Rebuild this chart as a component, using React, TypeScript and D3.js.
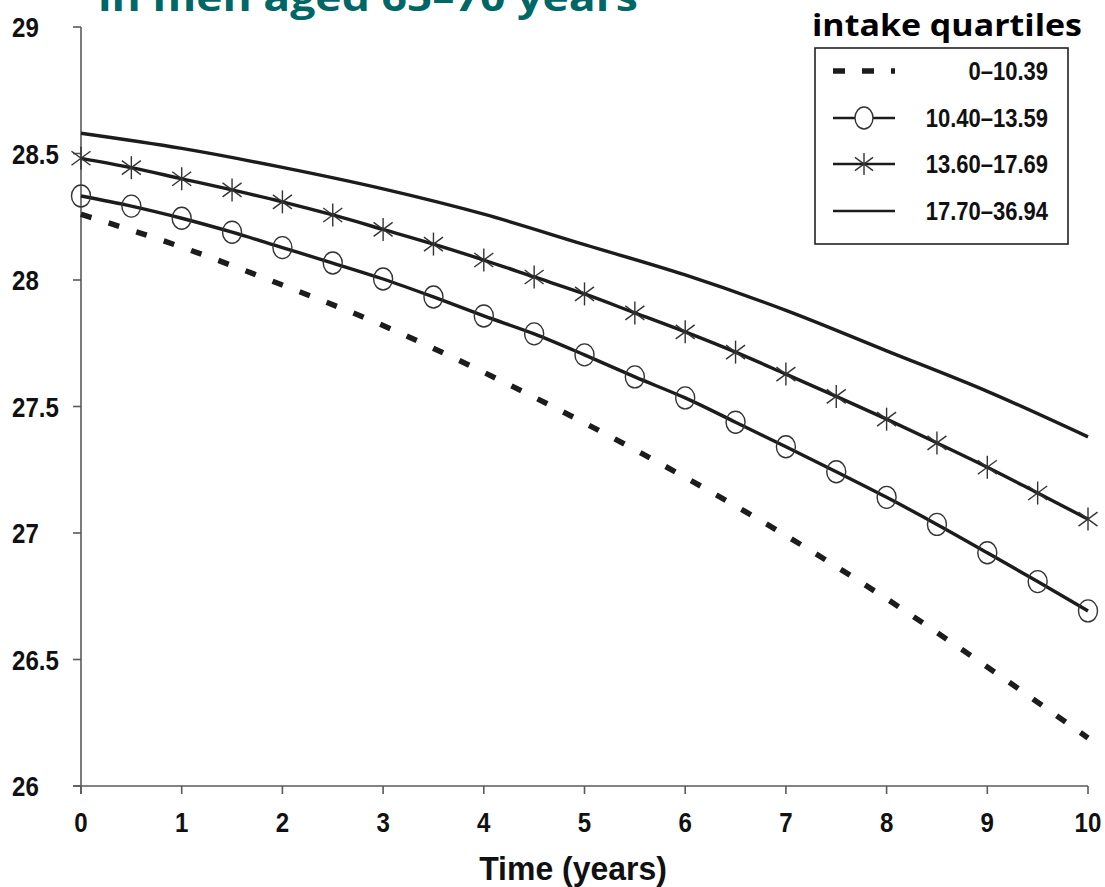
import React from "react";
import * as d3 from "d3";

// readings from the figure (BMI, kg/m2)
const years = [0, 1, 2, 3, 4, 5, 6, 7, 8, 9, 10];
const halfYears = [0, 0.5, 1, 1.5, 2, 2.5, 3, 3.5, 4, 4.5, 5, 5.5, 6, 6.5, 7, 7.5, 8, 8.5, 9, 9.5, 10];

const q1 = [28.26, 28.13, 27.98, 27.82, 27.635, 27.435, 27.22, 26.99, 26.74, 26.47, 26.19];
const q2 = [28.332, 28.292, 28.244, 28.189, 28.128, 28.067, 28.004, 27.933, 27.858, 27.787, 27.704, 27.617, 27.534, 27.438, 27.341, 27.242, 27.141, 27.034, 26.922, 26.808, 26.692];
const q3 = [28.481, 28.444, 28.4, 28.356, 28.309, 28.257, 28.2, 28.142, 28.079, 28.012, 27.945, 27.87, 27.795, 27.715, 27.628, 27.54, 27.45, 27.356, 27.26, 27.158, 27.055];
const q4 = [28.58, 28.52, 28.445, 28.36, 28.26, 28.14, 28.02, 27.88, 27.72, 27.56, 27.38];

const legendLabels = ["0–10.39", "10.40–13.59", "13.60–17.69", "17.70–36.94"];
const yTicks = [26, 26.5, 27, 27.5, 28, 28.5, 29];
const xTicks = [0, 1, 2, 3, 4, 5, 6, 7, 8, 9, 10];

const numFont = "'Liberation Sans', Arial, sans-serif";
const ink = "#1c1c1c";
const axisCol = "#5a5a5a";

// condensed bold text (the original uses a narrow face)
function NText({ x, y, size, sx = 0.86, anchor = "start", children }: any) {
  return (
    <text transform={`translate(${x},${y}) scale(${sx},1)`} fontFamily={numFont} fontWeight={700}
      fontSize={size} fill="#111" textAnchor={anchor}>
      {children}
    </text>
  );
}

function Star({ x, y, s = 1 }: { x: number; y: number; s?: number }) {
  const h = 11.5 * s, dx = 9.5 * s, dy = 7 * s;
  return (
    <g stroke="#333" strokeWidth={1.4} fill="none">
      <line x1={x} y1={y - h} x2={x} y2={y + h} />
      <line x1={x - dx} y1={y - dy} x2={x + dx} y2={y + dy} />
      <line x1={x - dx} y1={y + dy} x2={x + dx} y2={y - dy} />
    </g>
  );
}

export default function App() {
  const width = 1105, height = 887;
  const x = d3.scaleLinear().domain([0, 10]).range([81, 1088]);
  const y = d3.scaleLinear().domain([26, 29]).range([786, 27]);

  const line = d3
    .line<[number, number]>()
    .x((d) => x(d[0]))
    .y((d) => y(d[1]))
    .curve(d3.curveMonotoneX);

  const pts = (xs: number[], ys: number[]) => xs.map((t, i) => [t, ys[i]] as [number, number]);

  const lx1 = 833, lx2 = 895, lmid = 864;
  const rows = [71, 118, 164, 211];

  return (
    <svg width={width} height={height} style={{ position: "absolute", left: 0, top: 0, background: "#fff" }}>
      {/* title, cut by the top edge as in the source */}
      <text x={98} y={11} fill="#006766" fontFamily="'Open Sans', 'Noto Sans', sans-serif" fontWeight={700}
        fontSize={38} textLength={540} lengthAdjust="spacingAndGlyphs">
        in men aged 65–70 years
      </text>

      {/* axes */}
      <g stroke={axisCol} strokeWidth={1.6} fill="none">
        <line x1={x(0)} y1={y(29)} x2={x(0)} y2={y(26) + 8} />
        <line x1={x(0) - 8} y1={y(26)} x2={x(10)} y2={y(26)} />
        {yTicks.map((t) => (
          <line key={"yt" + t} x1={x(0) - 8} x2={x(0)} y1={y(t)} y2={y(t)} />
        ))}
        {xTicks.map((t) => (
          <line key={"xt" + t} x1={x(t)} x2={x(t)} y1={y(26)} y2={y(26) + 8} />
        ))}
      </g>
      {yTicks.map((t) => (
        <NText key={"yl" + t} x={12} y={y(t) + 10} size={28}>{String(t)}</NText>
      ))}
      {xTicks.map((t) => (
        <NText key={"xl" + t} x={x(t)} y={832} size={28} anchor="middle">{String(t)}</NText>
      ))}
      <NText x={573} y={880} size={34} sx={0.94} anchor="middle">Time (years)</NText>

      {/* series */}
      <path d={line(pts(years, q1)) || ""} fill="none" stroke={ink} strokeWidth={5.5} strokeDasharray="11 18" />
      <path d={line(pts(halfYears, q2)) || ""} fill="none" stroke={ink} strokeWidth={3.4} />
      <path d={line(pts(halfYears, q3)) || ""} fill="none" stroke={ink} strokeWidth={3.4} />
      <path d={line(pts(years, q4)) || ""} fill="none" stroke={ink} strokeWidth={3.4} />
      {halfYears.map((t, i) => (
        <ellipse key={"c" + i} cx={x(t)} cy={y(q2[i])} rx={9.5} ry={11} fill="none" stroke="#333" strokeWidth={1.4} />
      ))}
      {halfYears.map((t, i) => (
        <Star key={"s" + i} x={x(t)} y={y(q3[i])} />
      ))}

      {/* legend */}
      <text x={812} y={36} fontFamily="'Open Sans', 'Noto Sans', sans-serif" fontWeight={700} fontSize={30}
        textLength={270} lengthAdjust="spacingAndGlyphs" fill="#000">intake quartiles</text>
      <rect x={815} y={48} width={253} height={196} fill="#fff" stroke="#222" strokeWidth={1.6} />
      <line x1={lx1} x2={lx2} y1={rows[0]} y2={rows[0]} stroke={ink} strokeWidth={5.5} strokeDasharray="12 17" />
      <line x1={lx1} x2={lx2} y1={rows[1]} y2={rows[1]} stroke={ink} strokeWidth={2.6} />
      <ellipse cx={lmid} cy={rows[1]} rx={9} ry={11} fill="#fff" stroke="#333" strokeWidth={1.4} />
      <line x1={lx1} x2={lx2} y1={rows[2]} y2={rows[2]} stroke={ink} strokeWidth={2.6} />
      <Star x={lmid} y={rows[2]} s={0.95} />
      <line x1={lx1} x2={lx2} y1={rows[3]} y2={rows[3]} stroke={ink} strokeWidth={2.6} />
      {legendLabels.map((l, i) => (
        <NText key={l} x={1048} y={rows[i] + 9} size={25} sx={0.88} anchor="end">{l}</NText>
      ))}
    </svg>
  );
}
